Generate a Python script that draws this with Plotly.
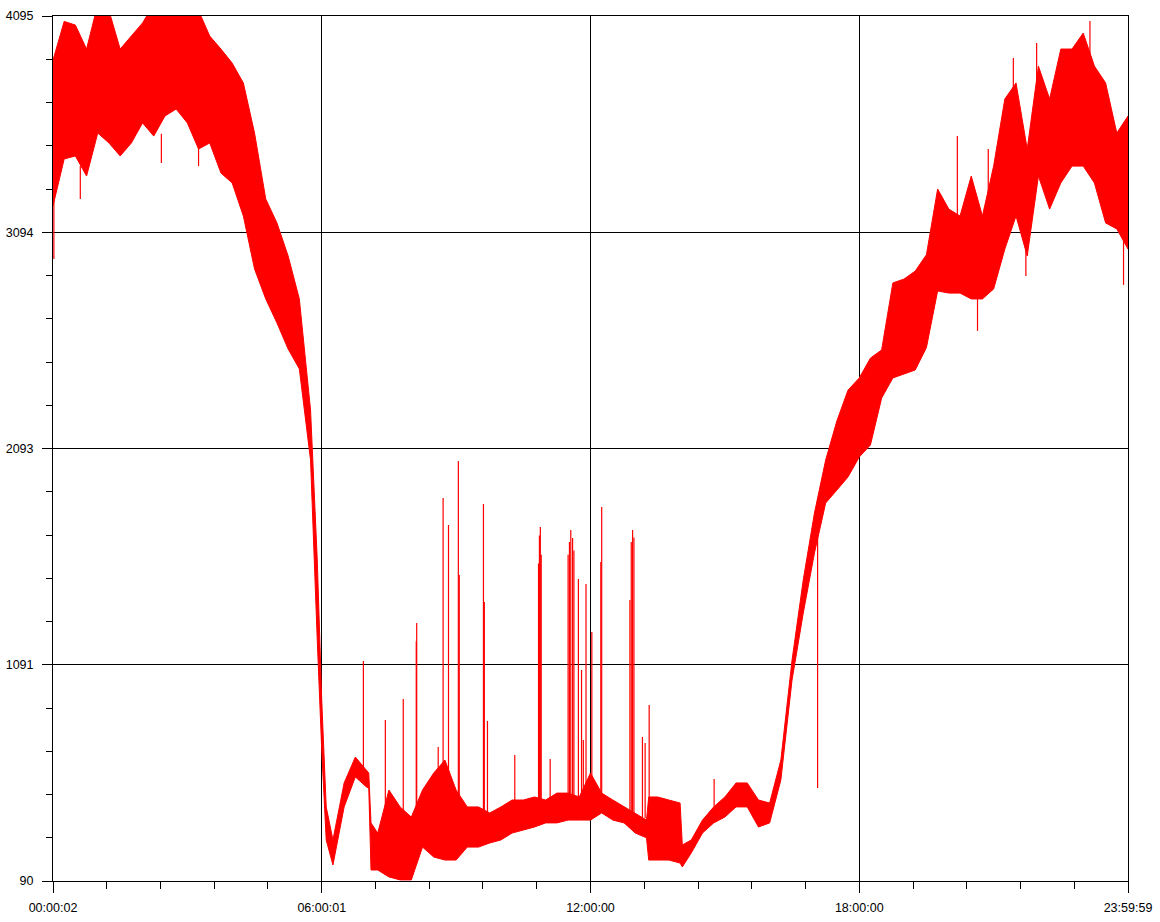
import plotly.graph_objects as go

# Time of day in hours; upper/lower envelope of the noisy signal (ADC counts)
hours = [0.0, 0.25, 0.5, 0.75, 1.0, 1.25, 1.5, 1.75, 2.0, 2.25, 2.5, 2.75, 3.0, 3.25, 3.5, 3.75,
         4.0, 4.25, 4.5, 4.75, 5.0, 5.25, 5.5, 5.75, 5.9, 6.0, 6.1, 6.25, 6.5, 6.75, 7.0, 7.05,
         7.1, 7.25, 7.5, 7.75, 8.0, 8.25, 8.5, 8.75, 9.0, 9.25, 9.5, 9.75, 10.0, 10.25, 10.5,
         10.75, 11.0, 11.25, 11.5, 11.75, 12.0, 12.25, 12.5, 12.75, 13.0, 13.25, 13.3, 13.5,
         13.75, 14.0, 14.05, 14.25, 14.5, 14.75, 15.0, 15.25, 15.5, 15.75, 16.0, 16.25, 16.5,
         16.75, 17.0, 17.25, 17.5, 17.75, 18.0, 18.25, 18.5, 18.75, 19.0, 19.25, 19.5, 19.75,
         20.0, 20.25, 20.5, 20.75, 21.0, 21.25, 21.5, 21.75, 22.0, 22.25, 22.5, 22.75, 23.0,
         23.25, 23.5, 23.75, 24.0]

upper = [3890, 4070, 4053, 3942, 4150, 4120, 3942, 4002, 4063, 4150, 4150, 4150, 4150, 4120, 4002, 3942,
         3877, 3785, 3553, 3248, 3137, 2984, 2785, 2271, 1576, 928, 433, 280, 544, 664, 604, 590,
         359, 312, 511, 433, 386, 511, 590, 650, 511, 433, 433, 405, 433, 465, 465,
         479, 465, 497, 497, 479, 590, 497, 465, 433, 405, 372, 479, 479,
         465, 451, 257, 280, 372, 433, 479, 544, 544, 465, 451, 650, 1113,
         1484, 1794, 2039, 2220, 2363, 2419, 2511, 2549, 2859, 2877, 2914, 2990, 3294,
         3201, 3169, 3354, 3169, 3400, 3711, 3785, 3479, 3863, 3711, 3942, 3942, 4016,
         3863, 3785, 3553, 3632]

lower = [3215, 3433, 3447, 3354, 3553, 3507, 3447, 3507, 3600, 3539, 3632, 3664, 3600, 3479, 3507, 3368,
         3322, 3169, 2924, 2785, 2674, 2553, 2461, 2039, 1206, 697, 280, 164, 433, 572, 525, 520,
         141, 141, 109, 95, 95, 247, 201, 187, 187, 247, 247, 266, 280, 312, 326,
         340, 359, 359, 372, 372, 372, 405, 372, 359, 312, 290, 187, 187,
         187, 173, 155, 220, 312, 359, 386, 433, 433, 340, 359, 558, 1021,
         1331, 1609, 1840, 1900, 1961, 2053, 2109, 2326, 2419, 2437, 2456, 2560, 2822,
         2812, 2812, 2785, 2785, 2831, 3016, 3169, 2984, 3354, 3201, 3322, 3400, 3400,
         3322, 3137, 3109, 3016]

# Isolated spikes: time (h), value the spike leaves from, value it reaches
spike_hours = [0.02, 0.61, 2.42, 3.25, 6.93, 7.42, 7.82, 8.11, 8.12, 8.60, 8.71, 8.83, 9.05, 9.07,
               9.61, 9.63, 9.70, 10.31, 10.84, 10.86, 10.88, 10.90, 11.10, 11.50, 11.53, 11.56,
               11.60, 11.63, 11.73, 11.80, 11.84, 11.90, 12.03, 12.23, 12.25, 12.88, 12.91, 12.94,
               12.97, 13.16, 13.22, 13.31, 14.76, 17.07, 20.19, 20.64, 20.88, 21.44, 21.72, 21.96,
               23.15, 23.90]
spike_base = [3300, 3400, 3550, 3500, 600, 300, 300, 300, 300, 400, 400, 400, 400, 350,
              350, 350, 350, 400, 400, 400, 400, 400, 450, 450, 450, 450,
              450, 450, 450, 450, 450, 450, 450, 450, 450, 400, 400, 400,
              400, 380, 380, 380, 400, 1700, 3000, 2900, 3000, 3400, 3100, 3500,
              3600, 3100]
spike_peak = [2970, 3248, 3414, 3400, 1109, 835, 933, 1200, 1285, 710, 1863, 1738, 2035, 1507,
              1836, 1382, 831, 673, 1560, 1690, 1729, 1600, 655, 1600, 1660, 1715,
              1678, 1620, 1488, 1067, 743, 1465, 1243, 1567, 1822, 1391, 1660, 1715,
              1680, 757, 729, 905, 562, 521, 3539, 2637, 3479, 3900, 2891, 3970,
              4072, 2850]

x_tick_hours = [2 / 3600, 21601 / 3600, 12.0, 18.0, 86399 / 3600]
x_tick_labels = ["00:00:02", "06:00:01", "12:00:00", "18:00:00", "23:59:59"]
y_tick_values = [90, 1091, 2093, 3094, 4095]

RED = "#ff0000"
FONT = dict(family="Liberation Sans, Arial, sans-serif", size=12.5, color="#000000")

fig = go.Figure()
fig.add_trace(go.Scatter(
    x=hours + hours[::-1], y=upper + lower[::-1],
    mode="lines", fill="toself", fillcolor=RED,
    line=dict(color=RED, width=1), hoverinfo="skip", showlegend=False))

sx, sy = [], []
for h, b, p in zip(spike_hours, spike_base, spike_peak):
    sx += [h, h, None]
    sy += [b, p, None]
fig.add_trace(go.Scatter(x=sx, y=sy, mode="lines", line=dict(color=RED, width=1.2),
                         hoverinfo="skip", showlegend=False))

x_minor = [1.2 * k for k in range(1, 20) if k % 5 != 0]
y_minor = [90 + 200.2 * k for k in range(1, 20) if k % 5 != 0]

fig.update_layout(
    width=1160, height=922,
    margin=dict(l=53, r=32, t=16, b=41, autoexpand=False),
    paper_bgcolor="white", plot_bgcolor="white",
    showlegend=False,
    xaxis=dict(range=[2 / 3600, 86399 / 3600], tickmode="array", tickvals=x_tick_hours,
               ticktext=x_tick_labels, ticks="outside", ticklen=11, tickwidth=1, tickcolor="black",
               showgrid=True, gridcolor="black", gridwidth=1, zeroline=False,
               showline=True, linecolor="black", linewidth=1, mirror=True, automargin=False,
               tickfont=FONT, ticklabelstandoff=4,
               minor=dict(tickvals=x_minor, ticks="outside", ticklen=7, tickcolor="black",
                          tickwidth=1, showgrid=False)),
    yaxis=dict(range=[90, 4095], tickmode="array", tickvals=y_tick_values,
               ticktext=[str(v) for v in y_tick_values], ticks="outside", ticklen=10,
               tickwidth=1, tickcolor="black",
               showgrid=True, gridcolor="black", gridwidth=1, zeroline=False,
               showline=True, linecolor="black", linewidth=1, mirror=True, automargin=False,
               tickfont=FONT, ticklabelstandoff=6,
               minor=dict(tickvals=y_minor, ticks="outside", ticklen=6, tickcolor="black",
                          tickwidth=1, showgrid=False)),
)

fig.write_html("out.html", config={"displayModeBar": False},
               post_script="document.body.style.margin='0';document.body.style.overflow='hidden';")
